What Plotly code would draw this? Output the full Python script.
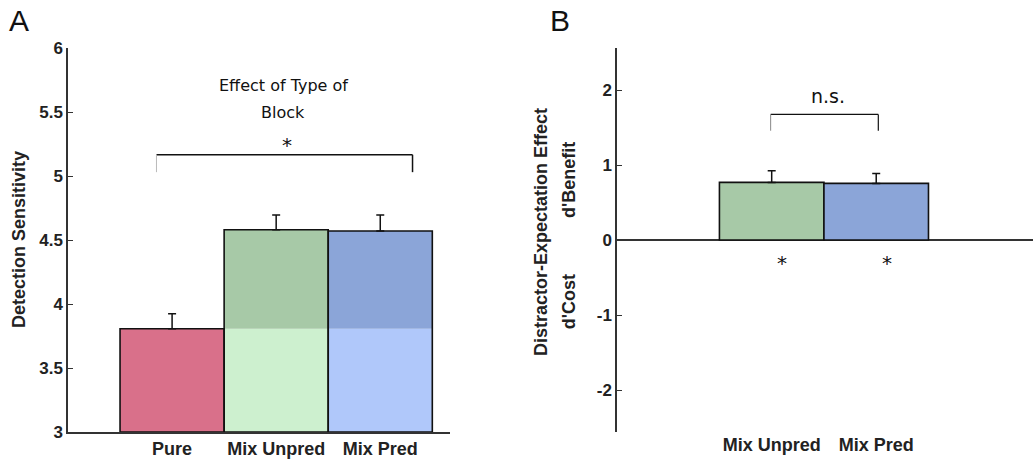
import plotly.graph_objects as go

# ---- data ----
cats_a = ["Pure", "Mix Unpred", "Mix Pred"]
vals_a = [3.807, 4.58, 4.57]
errs_a = [0.117, 0.115, 0.125]
pure_level = 3.807

cats_b = ["Mix Unpred", "Mix Pred"]
vals_b = [0.768, 0.755]
errs_b = [0.156, 0.133]

yticks_a = [3, 3.5, 4, 4.5, 5, 5.5, 6]
yticks_b = [-2, -1, 0, 1, 2]

col_dark = ["#D9708A", "#A7C9A7", "#8BA5D8"]
col_light = ["#D9708A", "#CDF0CF", "#B0C8FA"]

xa = [1, 2, 3]
xb = [1, 2]

fig = go.Figure()

# Panel A: light base
fig.add_trace(go.Bar(x=xa, y=[min(v, pure_level) - 3 for v in vals_a], base=3, width=1,
                     marker=dict(color=col_light, line=dict(width=0)),
                     xaxis="x", yaxis="y", showlegend=False))
# dark top part
fig.add_trace(go.Bar(x=xa[1:], y=[v - pure_level for v in vals_a[1:]], base=pure_level, width=1,
                     marker=dict(color=col_dark[1:], line=dict(width=0)),
                     xaxis="x", yaxis="y", showlegend=False))
# outline + error bars
fig.add_trace(go.Bar(x=xa, y=[v - 3 for v in vals_a], base=3, width=1,
                     marker=dict(color="rgba(0,0,0,0)", line=dict(color="#111111", width=1.6)),
                     error_y=dict(type="data", array=errs_a, arrayminus=[0]*3, symmetric=False,
                                  color="#111111", thickness=1.5, width=4),
                     xaxis="x", yaxis="y", showlegend=False))

# Panel B
fig.add_trace(go.Bar(x=xb, y=vals_b, width=1,
                     marker=dict(color=col_dark[1:], line=dict(color="#111111", width=1.6)),
                     error_y=dict(type="data", array=errs_b, arrayminus=[0]*2, symmetric=False,
                                  color="#111111", thickness=1.5, width=4),
                     xaxis="x2", yaxis="y2", showlegend=False))

xfont = dict(family="Liberation Sans, Arial, sans-serif", size=18, color="#222222")
yfont = dict(family="Liberation Sans, Arial, sans-serif", size=17, color="#222222")
ya_dom = [(461 - 432) / 461, (461 - 48) / 461]

fig.update_layout(
    width=1035, height=461,
    margin=dict(l=0, r=0, t=0, b=0),
    paper_bgcolor="white", plot_bgcolor="white",
    barmode="overlay",
    xaxis=dict(domain=[68 / 1035, 450 / 1035], range=[0.0, 3.67],
               tickvals=xa, ticktext=["<b>%s</b>" % c for c in cats_a],
               tickfont=xfont, showline=True, linecolor="#333333", linewidth=1.5,
               ticks="", showgrid=False, zeroline=False, automargin=False),
    yaxis=dict(domain=ya_dom, range=[3, 6], tickvals=yticks_a,
               ticktext=["<b>%g</b>" % t for t in yticks_a],
               tickfont=yfont, showline=True, linecolor="#333333", linewidth=1.5,
               ticks="inside", ticklen=5, tickcolor="#333333", showgrid=False, zeroline=False,
               automargin=False),
    xaxis2=dict(domain=[617 / 1035, 1033 / 1035], range=[-0.48, 3.5],
                tickvals=xb, ticktext=["<b>%s</b>" % c for c in cats_b],
                tickfont=xfont, showline=False, ticks="", showgrid=False, zeroline=False,
                anchor="y2", automargin=False),
    yaxis2=dict(domain=ya_dom, range=[-2.56, 2.56], tickvals=yticks_b,
                ticktext=["<b>%d</b>" % t for t in yticks_b],
                tickfont=yfont, showline=True, linecolor="#333333", linewidth=1.5,
                ticks="inside", ticklen=5, tickcolor="#333333", showgrid=False,
                zeroline=True, zerolinecolor="#333333", zerolinewidth=1.5, anchor="x2",
                automargin=False),
)

lc = "#111111"
shapes = [
    # bracket A
    dict(type="line", xref="x", yref="y", x0=0.85, x1=3.31, y0=5.166, y1=5.166, line=dict(color=lc, width=1.5)),
    dict(type="line", xref="x", yref="y", x0=0.85, x1=0.85, y0=5.166, y1=5.03, line=dict(color="#bbbbbb", width=1)),
    dict(type="line", xref="x", yref="y", x0=3.31, x1=3.31, y0=5.166, y1=5.03, line=dict(color=lc, width=1.5)),
    # bracket B
    dict(type="line", xref="x2", yref="y2", x0=0.99, x1=2.02, y0=1.675, y1=1.675, line=dict(color=lc, width=1.2)),
    dict(type="line", xref="x2", yref="y2", x0=0.99, x1=0.99, y0=1.675, y1=1.457, line=dict(color="#888888", width=1)),
    dict(type="line", xref="x2", yref="y2", x0=2.02, x1=2.02, y0=1.675, y1=1.457, line=dict(color=lc, width=1.2)),
]
fig.update_layout(shapes=shapes)

txt_font = dict(family="DejaVu Sans, Verdana, sans-serif", size=16, color="#111111")
star_font = dict(family="DejaVu Sans", size=20, color="#111111")
lab_font = dict(family="Liberation Sans, Arial", size=18, color="#222222")


def px_y(py):
    return 1 - py / 461


def px_x(px):
    return px / 1035


anns = [
    dict(xref="x", yref="paper", x=2.07, y=px_y(85), text="Effect of Type of", showarrow=False,
         font=txt_font, xanchor="center", yanchor="middle"),
    dict(xref="x", yref="paper", x=2.07, y=px_y(112), text="Block", showarrow=False,
         font=txt_font, xanchor="center", yanchor="middle"),
    dict(xref="x", yref="y", x=2.1, y=5.24, text="*", showarrow=False, font=star_font),
    dict(xref="x2", yref="y2", x=1.54, y=1.92, text="n.s.", showarrow=False,
         font=dict(family="DejaVu Sans, Verdana, sans-serif", size=19, color="#111111")),
    dict(xref="x2", yref="y2", x=1.1, y=-0.30, text="*", showarrow=False, font=star_font),
    dict(xref="x2", yref="y2", x=2.1, y=-0.30, text="*", showarrow=False, font=star_font),
    # panel letters
    dict(xref="paper", yref="paper", x=px_x(19), y=px_y(20), text="A", showarrow=False,
         xanchor="center", yanchor="middle",
         font=dict(family="Liberation Sans, Arial", size=30, color="#111111")),
    dict(xref="paper", yref="paper", x=px_x(560), y=px_y(20), text="B", showarrow=False,
         xanchor="center", yanchor="middle",
         font=dict(family="Liberation Sans, Arial", size=30, color="#111111")),
    # y titles
    dict(xref="paper", yref="paper", x=px_x(19), y=px_y(240), text="<b>Detection Sensitivity</b>",
         textangle=-90, showarrow=False, xanchor="center", yanchor="middle", font=lab_font),
    dict(xref="paper", yref="paper", x=px_x(541), y=px_y(232), text="<b>Distractor-Expectation Effect</b>",
         textangle=-90, showarrow=False, xanchor="center", yanchor="middle", font=lab_font),
    dict(xref="paper", yref="y2", x=px_x(569), y=0.8, text="<b>d'Benefit</b>",
         textangle=-90, showarrow=False, xanchor="center", yanchor="middle", font=lab_font),
    dict(xref="paper", yref="y2", x=px_x(569), y=-0.83, text="<b>d'Cost</b>",
         textangle=-90, showarrow=False, xanchor="center", yanchor="middle", font=lab_font),
]
fig.update_layout(annotations=anns)

fig.write_html("out.html")
